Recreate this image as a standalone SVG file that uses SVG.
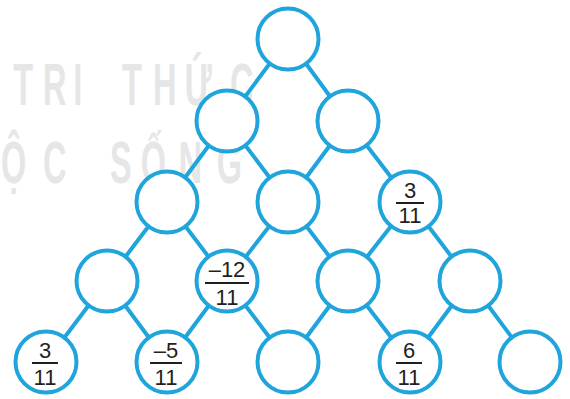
<svg xmlns="http://www.w3.org/2000/svg" width="570" height="399" viewBox="0 0 570 399">
<style>
.wm{font-family:"Liberation Sans",Arial,sans-serif;font-weight:bold;font-size:59px;fill:#e6e6e6}
.c{fill:#fff;stroke:#1fa4dc;stroke-width:4}
.e{stroke:#1fa4dc;stroke-width:4;fill:none}
.t{font-family:"Liberation Sans",Arial,sans-serif;font-size:22px;fill:#231f20;text-anchor:middle}
.b{stroke:#231f20;stroke-width:2}
</style>
<rect width="570" height="399" fill="#fff"/>
<g id="watermark" transform="scale(0.55,1)">
<text class="wm" x="24 78 133 182 222 278 336 418" y="105">TRI THỨC</text>
<text class="wm" x="2 78 145 200 256 325 394" y="183">ỘC SỐNG</text>
</g>
<g id="connectors">
<path class="e" d="M288 39L227 121M288 39L348 121
M227 121L167 202M227 121L288 202M348 121L288 202M348 121L410 202
M167 202L107 281M167 202L227 281M288 202L227 281M288 202L348 281M410 202L348 281M410 202L470 281
M107 281L46 362M107 281L167 362M227 281L167 362M227 281L288 362M348 281L288 362M348 281L410 362M470 281L410 362M470 281L530 362"/>
</g>
<g id="n1"><circle class="c" cx="288" cy="39" r="30.5"/></g>
<g id="n2"><circle class="c" cx="227" cy="121" r="30.5"/></g>
<g id="n3"><circle class="c" cx="348" cy="121" r="30.5"/></g>
<g id="n4"><circle class="c" cx="167" cy="202" r="30.5"/></g>
<g id="n5"><circle class="c" cx="288" cy="202" r="30.5"/></g>
<g id="n6"><circle class="c" cx="410" cy="202" r="30.5"/>
<text class="t" x="410" y="198">3</text><line class="b" x1="396" y1="203" x2="424" y2="203"/><text class="t" x="410" y="223">11</text></g>
<g id="n7"><circle class="c" cx="107" cy="281" r="30.5"/></g>
<g id="n8"><circle class="c" cx="227" cy="281" r="30.5"/>
<text class="t" x="227" y="277">–12</text><line class="b" x1="205" y1="283" x2="249" y2="283"/><text class="t" x="227" y="305">11</text></g>
<g id="n9"><circle class="c" cx="348" cy="281" r="30.5"/></g>
<g id="n10"><circle class="c" cx="470" cy="281" r="30.5"/></g>
<g id="n11"><circle class="c" cx="46" cy="362" r="30.5"/>
<text class="t" x="45" y="358">3</text><line class="b" x1="32" y1="363" x2="58" y2="363"/><text class="t" x="45" y="385">11</text></g>
<g id="n12"><circle class="c" cx="167" cy="362" r="30.5"/>
<text class="t" x="166" y="358">–5</text><line class="b" x1="150" y1="363" x2="182" y2="363"/><text class="t" x="166" y="385">11</text></g>
<g id="n13"><circle class="c" cx="288" cy="362" r="30.5"/></g>
<g id="n14"><circle class="c" cx="410" cy="362" r="30.5"/>
<text class="t" x="409" y="358">6</text><line class="b" x1="396" y1="363" x2="422" y2="363"/><text class="t" x="409" y="385">11</text></g>
<g id="n15"><circle class="c" cx="530" cy="362" r="30.5"/></g>
</svg>
